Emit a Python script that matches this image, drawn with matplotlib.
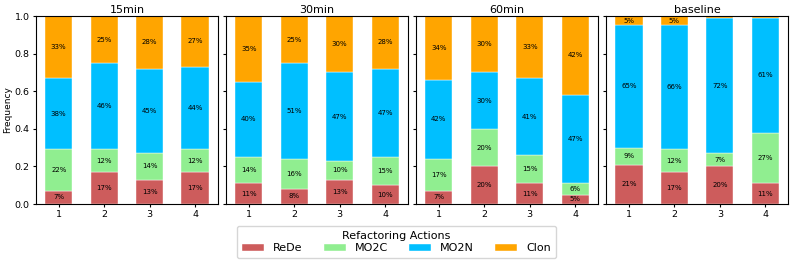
import numpy as np
import matplotlib.pyplot as plt

# 各設定ごとの割合 (ReDe, MO2C, MO2N, Clon)
settings = ['15min', '30min', '60min', 'baseline']
positions = [1, 2, 3, 4]
actions = ['ReDe', 'MO2C', 'MO2N', 'Clon']
colors = ['indianred', 'lightgreen', 'deepskyblue', 'orange']

rede = {
    '15min': [0.07, 0.17, 0.13, 0.17],
    '30min': [0.11, 0.08, 0.13, 0.10],
    '60min': [0.07, 0.20, 0.11, 0.05],
    'baseline': [0.21, 0.17, 0.20, 0.11],
}
mo2c = {
    '15min': [0.22, 0.12, 0.14, 0.12],
    '30min': [0.14, 0.16, 0.10, 0.15],
    '60min': [0.17, 0.20, 0.15, 0.06],
    'baseline': [0.09, 0.12, 0.07, 0.27],
}
mo2n = {
    '15min': [0.38, 0.46, 0.45, 0.44],
    '30min': [0.40, 0.51, 0.47, 0.47],
    '60min': [0.42, 0.30, 0.41, 0.47],
    'baseline': [0.65, 0.66, 0.72, 0.61],
}
clon = {
    '15min': [0.33, 0.25, 0.28, 0.27],
    '30min': [0.35, 0.25, 0.30, 0.28],
    '60min': [0.34, 0.30, 0.33, 0.42],
    'baseline': [0.05, 0.05, 0.01, 0.01],
}

fig, axes = plt.subplots(1, 4, figsize=(7.93, 2.68), dpi=100, sharey=True)
fig.subplots_adjust(left=36/793, right=788/793, top=1-16/268, bottom=1-204/268, wspace=0.045)

for ax, s in zip(axes, settings):
    bottom = np.zeros(len(positions))
    for name, data, c in zip(actions, [rede, mo2c, mo2n, clon], colors):
        vals = np.array(data[s])
        bars = ax.bar(positions, vals, 0.6, bottom=bottom, color=c, label=name,
                      edgecolor='white', linewidth=0.3)
        for b, v, y0 in zip(bars, vals, bottom):
            if v >= 0.03:
                ax.text(b.get_x() + b.get_width() / 2, y0 + v / 2, f'{v*100:.0f}%',
                        ha='center', va='center', fontsize=5)
        bottom += vals
    ax.set_title(s, fontsize=8, pad=2)
    ax.set_xlim(0.5, 4.5)
    ax.set_ylim(0, 1)
    ax.set_xticks(positions)
    ax.tick_params(labelsize=6.8, length=2.5, pad=2)

axes[0].set_ylabel('Frequency', fontsize=6.5, labelpad=2)

handles, labels = axes[0].get_legend_handles_labels()
fig.legend(handles, labels, title='Refactoring Actions', loc='lower center',
           bbox_to_anchor=(0.5, 0.015), ncol=4, fontsize=8, title_fontsize=8,
           handlelength=2.0, handletextpad=0.8, columnspacing=1.9,
           borderpad=0.45, labelspacing=0.2)

plt.savefig('out.png')
